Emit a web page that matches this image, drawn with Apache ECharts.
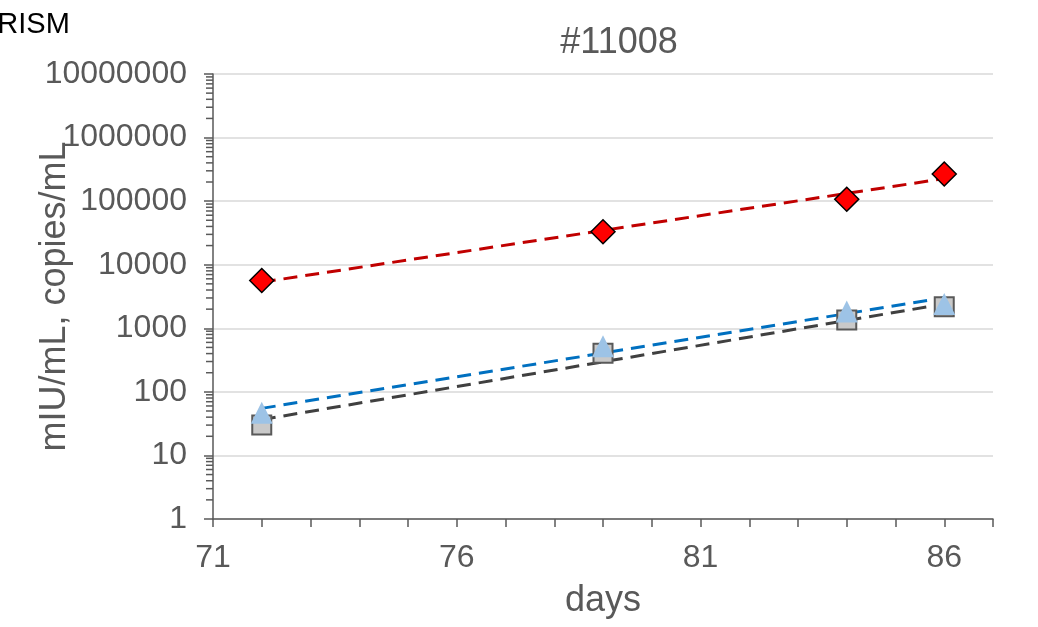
<!DOCTYPE html>
<html>
<head>
<meta charset="utf-8">
<script src="https://cdn.jsdelivr.net/npm/echarts@6/dist/echarts.min.js"></script>
<style>
  html, body { margin: 0; padding: 0; background: #fff; }
  #chart { width: 1038px; height: 627px; }
</style>
</head>
<body>
<div id="chart"></div>
<script>
// ---- data ----
const days = [72, 79, 84, 86];
const redValues = [5650, 33000, 107000, 267000];      // diamonds
const greyValues = [30, 404, 1350, 2190];              // squares
const blueValues = [47, 521, 1840, 2410];              // triangles
const trendDays = [72, 86];
const redTrend = [5310, 226000];
const blueTrend = [55, 3020];
const greyTrend = [36.6, 2410];
const xTickLabels = [71, 76, 81, 86];
const yTickValues = [1, 10, 100, 1000, 10000, 100000, 1000000, 10000000];
const titleText = '#11008';
const xName = 'days';
const yName = 'mIU/mL, copies/mL';
const cornerText = 'PRISM';

const pair = (xs, ys) => xs.map((x, i) => [x, ys[i]]);

// log minor ticks (2..9 per decade) for the y axis
const minorTicks = [];
for (let k = 0; k < yTickValues.length - 1; k++) {
  for (let m = 2; m <= 9; m++) minorTicks.push([71, m * yTickValues[k]]);
}

const FONT = '"Liberation Sans", Arial, sans-serif';
const TXT = '#595959';

const chart = echarts.init(document.getElementById('chart'), null, { renderer: 'canvas' });
chart.setOption({
  animation: false,
  backgroundColor: '#ffffff',
  textStyle: { fontFamily: FONT },
  title: {
    text: titleText,
    left: 614,
    textAlign: 'center',
    top: 20,
    textStyle: { fontFamily: FONT, fontSize: 36, fontWeight: 'normal', color: TXT }
  },
  graphic: [{
    type: 'text',
    left: -22,
    top: 10,
    style: { text: cornerText, font: '29px ' + FONT, fill: '#000000' }
  }],
  grid: { left: 213, right: 45, top: 74, bottom: 108, containLabel: false, outerBoundsMode: 'none' },
  xAxis: {
    type: 'value',
    min: 71,
    max: 87,
    interval: 1,
    name: xName,
    nameLocation: 'middle',
    nameGap: 64,
    nameMoveOverlap: false,
    nameTextStyle: { fontFamily: FONT, fontSize: 36, color: TXT },
    axisLine: { onZero: false, lineStyle: { color: TXT, width: 1.5 } },
    axisTick: { show: true, length: 8, inside: false, lineStyle: { color: TXT, width: 1.5 } },
    axisLabel: {
      margin: 23,
      fontFamily: FONT,
      fontSize: 32,
      color: TXT,
      formatter: v => (xTickLabels.indexOf(Math.round(v)) >= 0 ? String(Math.round(v)) : '')
    },
    splitLine: { show: false }
  },
  yAxis: {
    type: 'log',
    logBase: 10,
    min: yTickValues[0],
    max: yTickValues[yTickValues.length - 1],
    name: yName,
    nameLocation: 'middle',
    nameGap: 140,
    nameMoveOverlap: false,
    nameTextStyle: { fontFamily: FONT, fontSize: 36, color: TXT },
    axisLine: { show: true, lineStyle: { color: TXT, width: 1.5 } },
    axisTick: { show: true, length: 9, inside: false, lineStyle: { color: TXT, width: 1.5 } },
    axisLabel: {
      margin: 26,
      fontFamily: FONT,
      fontSize: 32,
      color: TXT,
      formatter: v => String(Math.round(v))
    },
    splitLine: { show: true, lineStyle: { color: '#D9D9D9', width: 1.5 } }
  },
  series: [
    {
      type: 'custom',
      silent: true,
      clip: false,
      z: 3,
      data: minorTicks,
      renderItem: (params, api) => {
        const p = api.coord([api.value(0), api.value(1)]);
        return {
          type: 'line',
          shape: { x1: p[0] - 7, y1: p[1], x2: p[0], y2: p[1] },
          style: { stroke: TXT, lineWidth: 1.5 }
        };
      }
    },
    {
      type: 'line', data: pair(trendDays, greyTrend), symbol: 'none', z: 2,
      lineStyle: { color: '#404040', width: 3, type: [14, 8] }
    },
    {
      type: 'line', data: pair(trendDays, blueTrend), symbol: 'none', z: 2,
      lineStyle: { color: '#0070C0', width: 3, type: [14, 8] }
    },
    {
      type: 'line', data: pair(trendDays, redTrend), symbol: 'none', z: 2,
      lineStyle: { color: '#C00000', width: 3, type: [14, 8] }
    },
    {
      type: 'scatter', data: pair(days, greyValues), symbol: 'rect', symbolSize: 19, z: 4,
      itemStyle: { color: '#C9C9C9', borderColor: '#595959', borderWidth: 2, opacity: 1 }
    },
    {
      type: 'scatter', data: pair(days, blueValues), symbol: 'triangle', symbolSize: [22, 22], z: 5,
      itemStyle: { color: '#9DC3E6', borderWidth: 0, opacity: 1 }
    },
    {
      type: 'scatter', data: pair(days, redValues), symbol: 'diamond', symbolSize: [24, 24], z: 6,
      itemStyle: { color: '#FF0000', borderColor: '#000000', borderWidth: 1.5, opacity: 1 }
    }
  ]
});
</script>
</body>
</html>
